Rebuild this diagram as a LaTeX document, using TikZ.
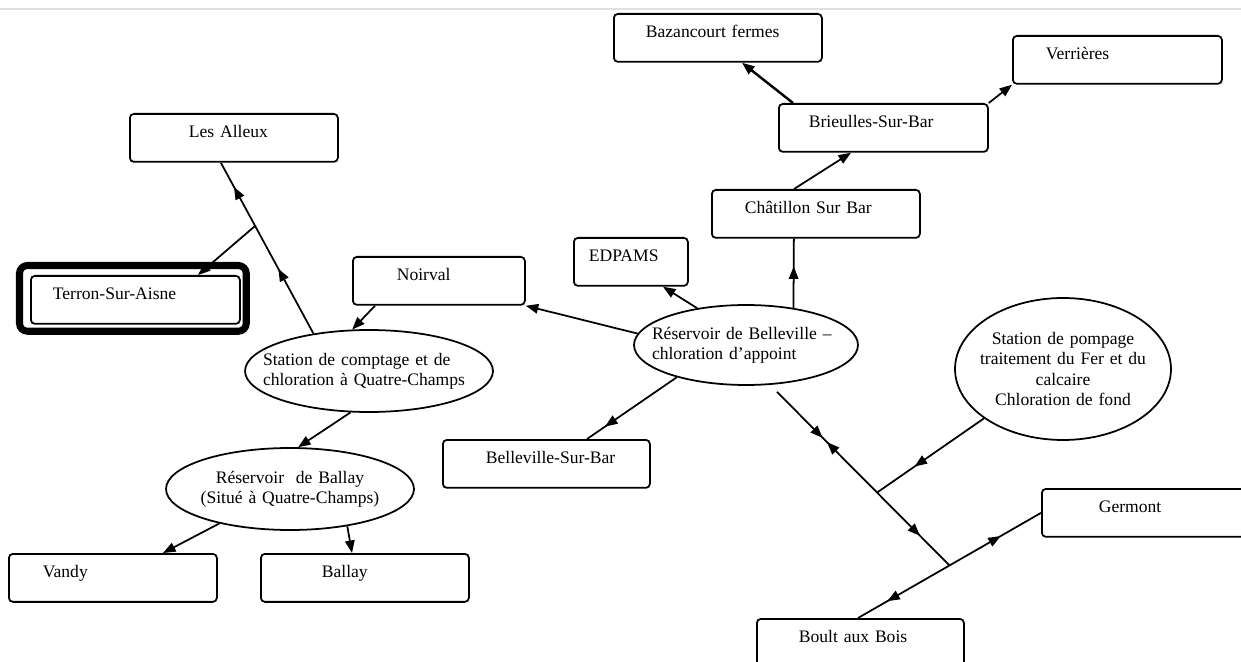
\documentclass[tikz,border=0pt]{standalone}
\usepackage{fontspec}
\setmainfont{Liberation Serif}
\usetikzlibrary{arrows.meta, positioning, calc, shapes.geometric, decorations.markings}
\newlength\px
\setlength\px{0.02cm}
\newcommand\placefont{\fontsize{10}{11.4}\selectfont}
\tikzset{
    place/.style={draw, rounded corners=2.3pt, anchor=north west, inner sep=0pt,
        text height=0.48cm, text depth=0.48cm, align=left, font=\placefont},
    wide/.style={text width=#1*\px},
    indent/.style={execute at begin node={\hspace*{#1\px}}},
    % negative xsep: the ellipse keeps its minimum size
    stage/.style={draw, ellipse, inner xsep=-1cm, inner ysep=0pt, font=\placefont},
    % arrow head part way along a line
    tipat/.style={postaction={decorate, decoration={markings, mark=at position #1 with {\arrow{>}}}}},
    backtipat/.style={postaction={decorate, decoration={markings, mark=at position #1 with {\arrowreversed{>}}}}},
}
\begin{document}
\begin{tikzpicture}[x=\px, y=-\px, line width=1pt, >={Triangle[length=0.25cm, width=0.19cm]}]
    \useasboundingbox (0,0) rectangle (1241,662);
    \clip (0,0) rectangle (1241,662);
    \draw[gray!25, line width=0.6pt] (0,9) -- (1241,9);

    % places
    \node[place, wide=208, indent=32] (baz) at (613,13) {Bazancourt fermes};
    \node[place, wide=209, indent=33] (verr) at (1012,35) {Verrières};
    \node[place, wide=209, indent=30] (brieu) at (778,103) {Brieulles-Sur-Bar};
    \node[place, wide=208, indent=33] (chat) at (711,189) {Châtillon Sur Bar};
    \node[place, wide=114, indent=15] (edp) at (573,237) {EDPAMS};
    \node[place, wide=172, indent=44] (noir) at (352,256) {Noirval};
    \node[place, wide=208, indent=59] (alleux) at (129,113) {Les Alleux};
    \node[place, wide=209, indent=22] (terron) at (30,275) {Terron-Sur-Aisne};
    \node[place, wide=207, indent=43] (bsb) at (442,439) {Belleville-Sur-Bar};
    \node[place, wide=208, indent=34] (vandy) at (8,553) {Vandy};
    \node[place, wide=208, indent=61] (ballay) at (260,553) {Ballay};
    \node[place, wide=210, indent=57] (germ) at (1041,488) {Germont};
    \node[place, wide=207, indent=42] (boult) at (756,618) {Boult aux Bois};

    \draw[line width=4pt, rounded corners=4.5pt] ($(terron.north west)+(-10.5,-9.5)$) rectangle ($(terron.south east)+(5.5,6.5)$);

    % stations and reservoirs
    \node[stage, minimum width=4.96cm, minimum height=1.64cm, text width=4.24cm, align=left] (comptage) at (369,371)
        {Station de comptage et de\\chloration à Quatre-Champs};
    \node[stage, minimum width=4.48cm, minimum height=1.6cm, text width=3.76cm, align=left] (bellev) at (746,345)
        {Réservoir de Belleville --\\chloration d'appoint};
    \node[stage, minimum width=4.96cm, minimum height=1.64cm, text width=3.8cm, align=center] (ballayres) at (290,489)
        {Réservoir~~de Ballay\\(Situé à Quatre-Champs)};
    \node[stage, minimum width=4.32cm, minimum height=2.84cm, text width=3.4cm, align=center] (pompage) at (1063,369)
        {Station de pompage\\traitement du Fer et du\\calcaire\\Chloration de fond};

    % Quatre-Champs side
    \coordinate (alleuxin) at ($(alleux.south)+(-13,0)$);
    \draw[tipat=0.38, tipat=0.86] (comptage.146) -- (alleuxin) coordinate[pos=0.63] (alleuxjoin);
    \draw[->] (alleuxjoin) -- ($(terron.north west)+(168,0)$);
    \draw[->] ($(noir.south west)+(23,0)$) -- (comptage.112);
    \draw[->] (comptage.-114) -- (ballayres.79);
    \draw[->] (ballayres.206) -- ($(vandy.north west)+(155,0)$);
    \draw[->] (ballayres.-33) -- ($(ballay.north west)+(92,0)$);

    % Belleville side
    \draw[->] (bellev.174) -- (noir.south east);
    \draw[->] (bellev.143) -- ($(edp.south west)+(90,0)$);
    \draw[tipat=0.6] (bellev.38) -- ($(chat.south)+(-22,0)$);
    \draw[tipat=0.8] (bellev.205) -- ($(bsb.north west)+(145,0)$);
    \draw[->] ($(chat.north west)+(83,0)$) -- ($(brieu.south west)+(73,0)$);
    \draw[->, line width=1.4pt] ($(brieu.north west)+(15,0)$) -- ($(baz.south west)+(129,0)$);
    \draw[->] (brieu.north east) -- (verr.south west);

    % feed from the pumping station
    \coordinate (boultin) at ($(boult.north west)+(102,0)$);
    \coordinate (boultjoin) at ($(boultin)!0.5!(germ.west)$);
    \coordinate (bellevout) at ($(bellev.south)+(31,6)$);
    \draw[tipat=0.265, backtipat=0.29, tipat=0.83] (bellevout) -- (boultjoin) coordinate[pos=0.58] (pompjoin);
    \draw[tipat=0.65] (pompage.212) -- (pompjoin);
    \draw[tipat=0.68] (boultjoin) -- (boultin);
    \draw[tipat=0.56] (boultjoin) -- (germ.west);
\end{tikzpicture}
\end{document}
